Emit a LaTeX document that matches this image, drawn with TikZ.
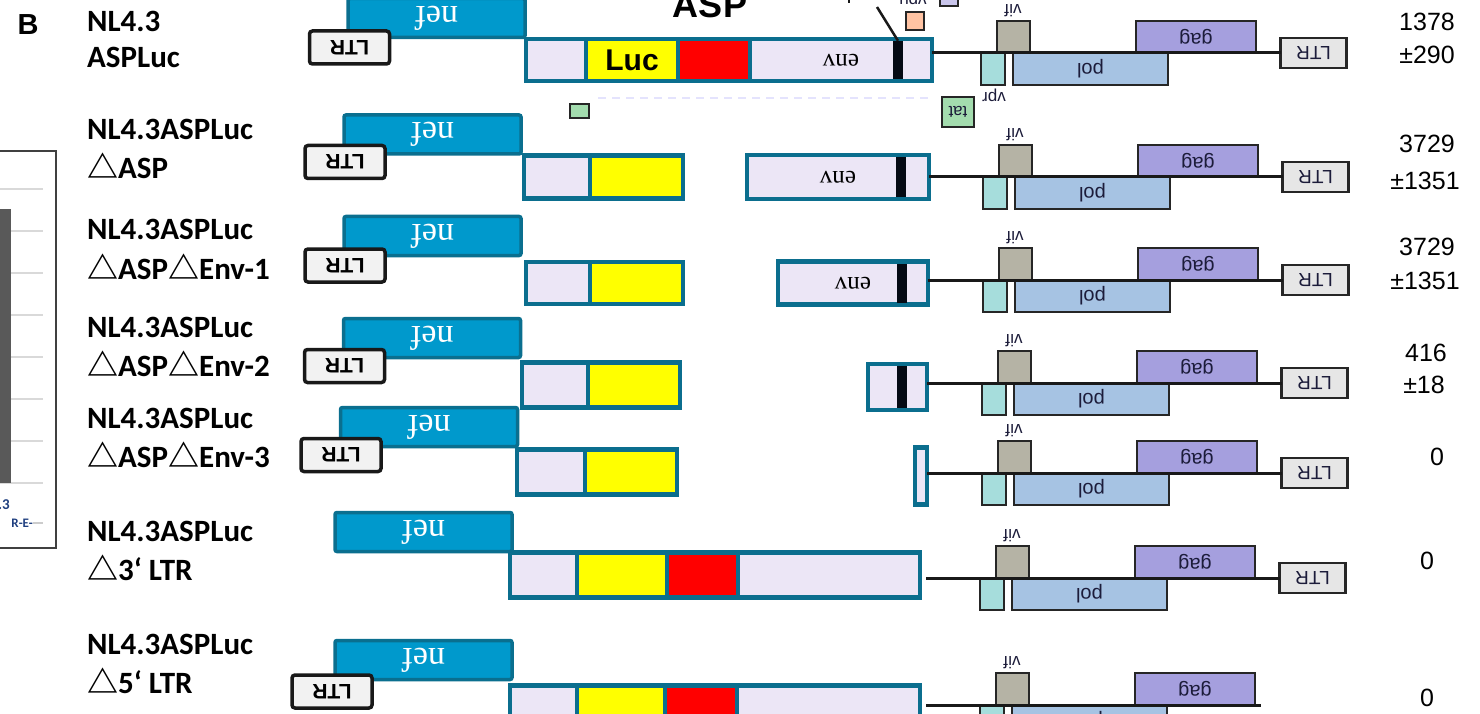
\documentclass[tikz,border=0pt]{standalone}
\usepackage{fontspec}
\usepackage{graphicx}
\usetikzlibrary{positioning}
\setmainfont{Liberation Sans}
\newfontfamily\carlito{Carlito}
\newfontfamily\serifft{Liberation Serif}
\newfontfamily\cjk{Noto Sans CJK SC}

\definecolor{nefblue}{HTML}{0099CC}
\definecolor{nefedge}{HTML}{0A6F8F}
\definecolor{cedge}{HTML}{0B6E8E}
\definecolor{lav}{HTML}{ECE6F6}
\definecolor{lucyel}{HTML}{FFFF00}
\definecolor{aspred}{HTML}{FF0000}
\definecolor{barblack}{HTML}{050A14}
\definecolor{vifgray}{HTML}{B5B3A5}
\definecolor{vprcyan}{HTML}{A6DDDC}
\definecolor{polblue}{HTML}{A6C3E3}
\definecolor{gagpurple}{HTML}{A59FDE}
\definecolor{ltrgray}{HTML}{E6E6E6}
\definecolor{tatgreen}{HTML}{A3DCAE}
\definecolor{vpupeach}{HTML}{FFC3A3}
\definecolor{genetext}{HTML}{1C1C3A}
\definecolor{chartblue}{HTML}{1F3F7F}

\newcommand{\flip}[1]{\rotatebox[origin=c]{180}{#1}}
\newcommand{\tri}{{\cjk △}}

\begin{document}
\begin{tikzpicture}[x=1pt, y=-1pt,
  seg/.style={rectangle, draw=cedge, line width=4.5pt, inner sep=0pt, outer sep=0pt, anchor=west},
  aspbar/.style={rectangle, fill=barblack, inner sep=0pt, minimum width=10pt},
  nefbox/.style={rectangle, draw=nefedge, fill=nefblue, line width=3.5pt, rounded corners=2pt, inner sep=0pt, minimum width=177pt, minimum height=39pt, text=white, font=\serifft\fontsize{34}{34}\selectfont},
  ltrbox/.style={rectangle, draw=black!90, fill=black!5, line width=3.5pt, rounded corners=3pt, inner sep=0pt, minimum width=80pt, minimum height=33pt, font=\bfseries\fontsize{21}{21}\selectfont},
  gene/.style={rectangle, draw=black!85, line width=2.5pt, inner sep=0pt, outer sep=0pt, minimum height=32pt, text=genetext, font=\fontsize{20}{20}\selectfont},
  genelbl/.style={text=genetext, font=\fontsize{17}{17}\selectfont, inner sep=0pt},
  spine/.style={draw=black!90, line width=3pt},
  lbl/.style={anchor=base west, inner sep=0pt, font=\carlito\bfseries\fontsize{31}{37}\selectfont},
  score/.style={font=\fontsize{25}{30}\selectfont, inner sep=0pt}
]
\clip (0,0) rectangle (1480,714);

% cut-off chart on the left
\draw[black!75, line width=1.5pt] (-2,151) -- (56,151) -- (56,548) -- (-2,548);
\foreach \y in {189,231,273,315,357,399,441,483}
  \draw[black!15, line width=2pt] (0,\y) -- (43,\y);
\fill[black!65] (-2,209) rectangle (11,483);
\node[anchor=west, inner sep=0pt, text=chartblue, font=\carlito\bfseries\fontsize{15}{15}\selectfont] (chX) at (-2,505) {.3};
\node[anchor=east, inner sep=0pt, text=chartblue, font=\carlito\bfseries\fontsize{13}{13}\selectfont] (chY) at (33,523) {R-E-};
\draw[black!20, line width=1.5pt] (chY.east) -- (43,523);

% panel letter and row names
\node[font=\bfseries\fontsize{29}{29}\selectfont, inner sep=0pt] (panelB) at (28,25) {B};
\node[lbl] (lab1-a) at (87,32) {NL4.3};
\node[lbl] (lab1-b) at (87,68) {ASPLuc};
\foreach \r/\y/\t in {2/140/ASP, 3/240/ASP\tri Env-1, 4/337/ASP\tri Env-2, 5/428/ASP\tri Env-3, 6/541/3‘ LTR, 7/654/5‘ LTR} {
  \node[lbl] (lab\r-a) at (87,\y) {NL4.3ASPLuc};
  \node[lbl] (lab\r-b) at (87,\y+39) {\tri\t};
}

% nef and 5' LTR
\node[nefbox] (nef1) at (436.5,18) {\flip{nef}};
\node[nefbox] (nef2) at (432.5,134.5) {\flip{nef}};
\node[nefbox] (nef3) at (432.5,236) {\flip{nef}};
\node[nefbox] (nef4) at (432,338) {\flip{nef}};
\node[nefbox] (nef5) at (429,427) {\flip{nef}};
\node[nefbox] (nef6) at (423.5,532) {\flip{nef}};
\node[nefbox] (nef7) at (423.5,660) {\flip{nef}};
\node[ltrbox] (ltrL1) at (349.5,47.5) {\flip{LTR}};
\node[ltrbox] (ltrL2) at (345,162) {\flip{LTR}};
\node[ltrbox] (ltrL3) at (345,265.5) {\flip{LTR}};
\node[ltrbox] (ltrL4) at (344.5,366) {\flip{LTR}};
\node[ltrbox] (ltrL5) at (341,455) {\flip{LTR}};
\node[ltrbox] (ltrL7) at (332,691.5) {\flip{LTR}};

% reporter constructs
\node[seg, fill=lav, minimum width=60pt, minimum height=42pt] (lavA1) at (526,60) {};
\node[seg, fill=lucyel, minimum width=92pt, minimum height=42pt, font=\bfseries\fontsize{30}{30}\selectfont] (luc1) at (lavA1.east) {Luc};
\node[seg, fill=aspred, minimum width=72pt, minimum height=42pt] (red1) at (luc1.east) {};
\node[seg, fill=lav, minimum width=182pt, minimum height=42pt, font=\serifft\fontsize{25}{25}\selectfont] (env1) at (red1.east) {\flip{env}};
\node[aspbar, minimum height=38pt] (asp1) at (898,60) {};

\node[seg, fill=lav, minimum width=66pt, minimum height=43pt] (lavA2) at (524,177) {};
\node[seg, fill=lucyel, minimum width=93pt, minimum height=43pt] (luc2) at (lavA2.east) {};
\node[seg, fill=lav, minimum width=182pt, minimum height=44pt, font=\serifft\fontsize{25}{25}\selectfont] (env2) at (747,177) {\flip{env}};
\node[aspbar, minimum height=40pt] (asp2) at (901,177) {};

\node[seg, fill=lav, minimum width=64pt, minimum height=42pt] (lavA3) at (526,283) {};
\node[seg, fill=lucyel, minimum width=93pt, minimum height=42pt] (luc3) at (lavA3.east) {};
\node[seg, fill=lav, minimum width=150pt, minimum height=43pt, font=\serifft\fontsize{25}{25}\selectfont] (env3) at (778,283) {\flip{env}};
\node[aspbar, minimum height=39pt] (asp3) at (902,283) {};

\node[seg, fill=lav, minimum width=66pt, minimum height=45pt] (lavA4) at (522,385) {};
\node[seg, fill=lucyel, minimum width=92pt, minimum height=45pt] (luc4) at (lavA4.east) {};
\node[seg, fill=lav, minimum width=59pt, minimum height=46pt] (env4) at (868,387) {};
\node[aspbar, minimum height=42pt] (asp4) at (902,387) {};

\node[seg, fill=lav, minimum width=68pt, minimum height=45pt] (lavA5) at (517,472) {};
\node[seg, fill=lucyel, minimum width=92pt, minimum height=45pt] (luc5) at (lavA5.east) {};
\node[seg, fill=lav, minimum width=12pt, minimum height=57pt] (env5) at (915,476) {};

\node[seg, fill=lav, minimum width=67pt, minimum height=45pt] (lavA6) at (510,575) {};
\node[seg, fill=lucyel, minimum width=90pt, minimum height=45pt] (luc6) at (lavA6.east) {};
\node[seg, fill=aspred, minimum width=71pt, minimum height=45pt] (red6) at (luc6.east) {};
\node[seg, fill=lav, minimum width=182pt, minimum height=45pt] (env6) at (red6.east) {};

\node[seg, fill=lav, minimum width=67pt, minimum height=45pt] (lavA7) at (510,708) {};
\node[seg, fill=lucyel, minimum width=88pt, minimum height=45pt] (luc7) at (lavA7.east) {};
\node[seg, fill=aspred, minimum width=72pt, minimum height=45pt] (red7) at (luc7.east) {};
\node[seg, fill=lav, minimum width=183pt, minimum height=45pt] (env7) at (red7.east) {};

% ASP pointer
\node[anchor=base, inner sep=0pt, font=\bfseries\fontsize{36}{36}\selectfont] (aspLbl) at (710,18) {ASP};
\coordinate (aspTip) at (877,7);
\draw[black!90, line width=2.5pt] (asp1.north) -- (aspTip);
\draw[black!90, line width=2pt] (849,-3) -- (849,3);

% genome of the first row, extra genes
\draw[lav!70!blue!30, line width=2.5pt, dash pattern=on 8pt off 6pt] (598,98) -- (928,98);
\node[gene, fill=tatgreen, line width=1.5pt, minimum width=19pt, minimum height=14pt] (tatS) at (579.5,111) {};
\node[gene, fill=tatgreen, line width=2pt, minimum width=32pt, minimum height=30pt, font=\fontsize{17}{17}\selectfont] (tat1) at (958,112) {\flip{tat}};
\node[gene, fill=vpupeach, line width=1.5pt, minimum width=18pt, minimum height=18pt] (vpu1) at (915,21) {};
\node[genelbl] (vpuLbl) at (913,-2) {\flip{vpu}};
\node[gene, fill=gagpurple!60, line width=1.5pt, minimum width=18pt, minimum height=12pt] (topBox) at (949,0) {};
\node[genelbl] (vprLbl) at (994,95) {\flip{vpr}};

% HIV genes on the right
\foreach \r/\L/\dx in {1/53/0, 2/177/2, 3/280/2, 4/383/1, 5/473/1, 6/578/-1, 7/705/-1} {
  \node[gene, fill=vifgray, minimum width=33pt] (vif\r) at (1013.5+\dx,\L-16) {};
  \node[gene, fill=vprcyan, minimum width=24pt] (vpr\r) at (993+\dx,\L+16) {};
  \node[gene, fill=polblue, minimum width=155pt] (pol\r) at (1090.5+\dx,\L+16) {\flip{pol}};
  \node[gene, fill=gagpurple, minimum width=120pt] (gag\r) at (1196+\dx,\L-16) {\flip{gag}};
  \node[genelbl] (vifLbl\r) at (1013+\dx,\L-42) {\flip{vif}};
}
\foreach \r/\L/\dx in {1/53/0, 2/177/2, 3/280/2, 4/383/1, 5/473/1, 6/578/-1}
  \node[gene, fill=ltrgray, minimum width=66pt, minimum height=30pt, font=\fontsize{19}{19}\selectfont] (ltr\r) at (1313.5+\dx,\L) {\flip{LTR}};

% backbone lines
\foreach \r/\gap in {1/0, 2/0, 3/0, 4/0, 5/0, 6/6}
  \draw[spine, shorten <=\gap pt] (env\r.east |- ltr\r) -- (ltr\r.west);
\coordinate (sp7) at (1261,705);
\draw[spine, shorten <=6pt] (env7.east |- sp7) -- (sp7);

% values
\node[score] (n1a) at (1427,22) {1378};
\node[score] (n1b) at (1427,55) {±290};
\node[score] (n2a) at (1427,144) {3729};
\node[score] (n2b) at (1425,181) {±1351};
\node[score] (n3a) at (1427,247) {3729};
\node[score] (n3b) at (1425,281) {±1351};
\node[score] (n4a) at (1426,353) {416};
\node[score] (n4b) at (1424,385) {±18};
\node[score] (n5) at (1437,457) {0};
\node[score] (n6) at (1427,561) {0};
\node[score] (n7) at (1427,698) {0};
\end{tikzpicture}
\end{document}
